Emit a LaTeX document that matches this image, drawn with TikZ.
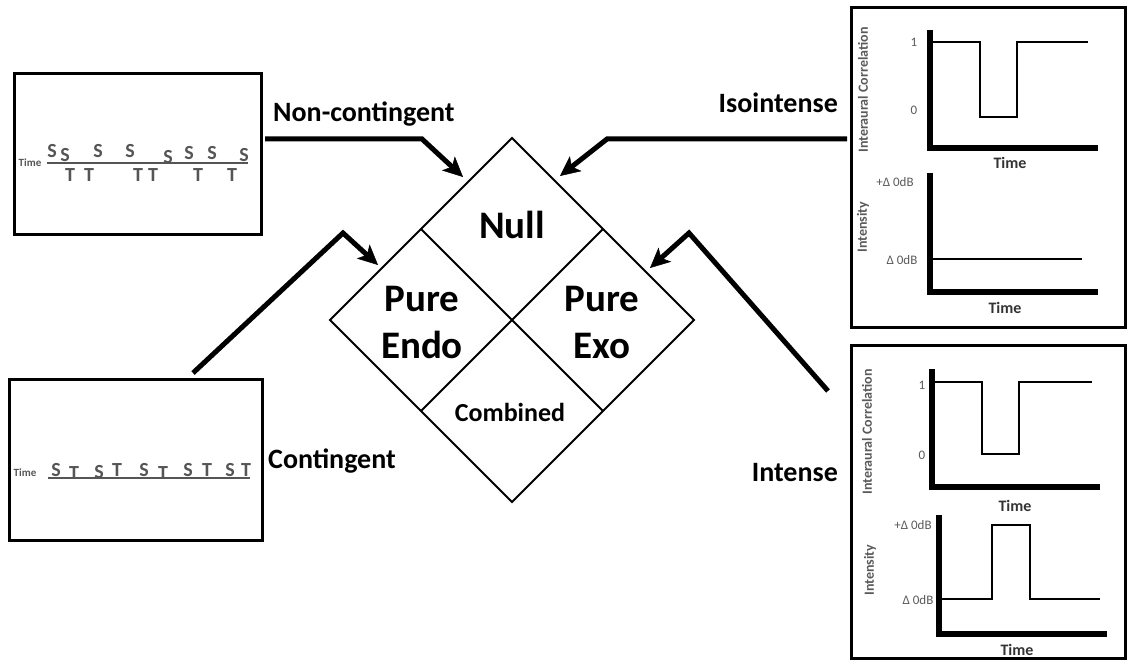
\documentclass[tikz,border=0pt]{standalone}
\usepackage{fontspec}
\setmainfont{Carlito}
\usetikzlibrary{arrows.meta,positioning,calc}
\definecolor{axisgray}{RGB}{90,90,90}
\definecolor{seqgray}{RGB}{85,85,85}

\begin{document}
\begin{tikzpicture}[x=1pt,y=-1pt,
  every node/.style={inner sep=0pt},
  big/.style={font=\fontsize{28}{30}\selectfont\bfseries},
  cell/.style={font=\fontsize{39}{47}\selectfont\bfseries,align=center},
  seq/.style={font=\fontsize{20}{22}\selectfont\bfseries,text=seqgray,anchor=base},
  tinylbl/.style={font=\fontsize{11}{12}\selectfont\bfseries,text=seqgray},
  axlbl/.style={font=\fontsize{14}{15}\selectfont\bfseries,text=axisgray,rotate=90},
  ticklbl/.style={font=\fontsize{13}{14}\selectfont,text=axisgray},
  timelbl/.style={font=\fontsize{16}{17}\selectfont\bfseries,text=black!80},
  frame/.style={draw,line width=3pt},
  axes/.style={line width=6pt},
  trace/.style={line width=2.5pt},
  feed/.style={line width=5pt,-{Stealth[length=20pt,width=19pt,inset=5pt,line width=0.5pt]}}]
  \useasboundingbox (0,0) rectangle (1127,660);

  % diamond of conditions
  \coordinate (dT) at (512,138);
  \coordinate (dL) at (330,320);
  \coordinate (dR) at (694,320);
  \coordinate (dB) at (512,502);
  \draw[line width=2pt] (dT) -- (dR) -- (dB) -- (dL) -- cycle;
  \draw[line width=2pt] ($(dT)!.5!(dL)$) -- ($(dR)!.5!(dB)$);
  \draw[line width=2pt] ($(dT)!.5!(dR)$) -- ($(dL)!.5!(dB)$);
  \node[cell] (null) at (512,225) {Null};
  \node[cell] (endo) at (422,322) {Pure\\Endo};
  \node[cell] (exo) at (602,322) {Pure\\Exo};
  \node[font=\fontsize{26}{28}\selectfont\bfseries] (comb) at (510,412) {Combined};

  % non-contingent sequence
  \node[frame,minimum width=247pt,minimum height=161pt] (nonc) at (137.5,154.5) {};
  \draw[line width=1.5pt,seqgray] (47,163) -- (248,163);
  \node[tinylbl] (ncTime) at (30,163) {Time};
  \foreach \x/\y [count=\i] in {52/158,65/162,98/158,130/158,168/164,189/160,212/160,244/162}
    \node[seq] (ncS\i) at (\x,\y) {S};
  \foreach \x [count=\i] in {70,89,138,153,198,232}
    \node[seq] (ncT\i) at (\x,182) {T};

  % contingent sequence
  \node[frame,minimum width=253pt,minimum height=161pt] (cont) at (135.5,459.5) {};
  \draw[line width=1.5pt,seqgray] (48,478) -- (250,478);
  \node[tinylbl] (ctTime) at (25,473) {Time};
  \foreach \x/\y/\c [count=\i] in {56/476/S,74/479/T,99/478/S,117/476/T,144/476/S,163/479/T,188/476/S,207/476/T,230/476/S,246/476/T}
    \node[seq] (ctL\i) at (\x,\y) {\c};

  % isointense panel
  \node[frame,minimum width=274pt,minimum height=319pt] (iso) at (988,167.5) {};
  \draw[axes] (930,30) -- (930,148) -- (1098,148);
  \draw[trace] (932,42) -- (980,42) -- (980,117) -- (1017,117) -- (1017,42) -- (1088,42);
  \node[ticklbl] (isoOne) at (914,42) {1};
  \node[ticklbl] (isoZero) at (914,110) {0};
  \node[axlbl] (isoIC) at (863,90) {Interaural Correlation};
  \node[timelbl] (isoTimeA) at (1010,163) {Time};
  \draw[axes] (930,173) -- (930,292) -- (1098,292);
  \draw[trace] (932,259) -- (1082,259);
  \node[ticklbl] (isoHi) at (895,182) {+Δ 0dB};
  \node[ticklbl] (isoLo) at (902,260) {Δ 0dB};
  \node[axlbl] (isoInt) at (863,227) {Intensity};
  \node[timelbl] (isoTimeB) at (1005,308) {Time};

  % intense panel
  \node[frame,minimum width=274pt,minimum height=313pt] (ints) at (988,501.5) {};
  \draw[axes] (932,369) -- (932,487) -- (1100,487);
  \draw[trace] (935,382) -- (982,382) -- (982,454) -- (1019,454) -- (1019,382) -- (1092,382);
  \node[ticklbl] (intOne) at (922,385) {1};
  \node[ticklbl] (intZero) at (922,455) {0};
  \node[axlbl] (intIC) at (867,432) {Interaural Correlation};
  \node[timelbl] (intTimeA) at (1015,506) {Time};
  \draw[axes] (939,515) -- (939,634) -- (1107,634);
  \draw[trace] (941,599) -- (992,599) -- (992,525) -- (1030,525) -- (1030,599) -- (1100,599);
  \node[ticklbl] (intHi) at (913,525) {+Δ 0dB};
  \node[ticklbl] (intLo) at (918,600) {Δ 0dB};
  \node[axlbl] (intInt) at (870,570) {Intensity};
  \node[timelbl] (intTimeB) at (1017,650) {Time};

  % labels and arrows
  \node[big,anchor=base west] (ncLbl) at (273,122) {Non-contingent};
  \node[big,anchor=base east] (isoLbl) at (838,113) {Isointense};
  \node[big,anchor=base west] (ctLbl) at (268,468) {Contingent};
  \node[big,anchor=base east] (intLbl) at (838,481) {Intense};
  \coordinate (ncStart) at (265,139);
  \coordinate (ncBend) at (422,139);
  \coordinate (ncTip) at (463,177);
  \coordinate (isoStart) at (847,139);
  \coordinate (isoBend) at (607,139);
  \coordinate (isoTip) at (560,176);
  \coordinate (ctStart) at (193,373);
  \coordinate (ctBend) at (343,233);
  \coordinate (ctTip) at (378,265);
  \coordinate (intStart) at (828,391);
  \coordinate (intBend) at (689,233);
  \coordinate (intTip) at (650,268);
  \draw[feed] (ncStart) -- (ncBend) -- (ncTip);
  \draw[feed] (isoStart) -- (isoBend) -- (isoTip);
  \draw[feed] (ctStart) -- (ctBend) -- (ctTip);
  \draw[feed] (intStart) -- (intBend) -- (intTip);
\end{tikzpicture}
\end{document}
